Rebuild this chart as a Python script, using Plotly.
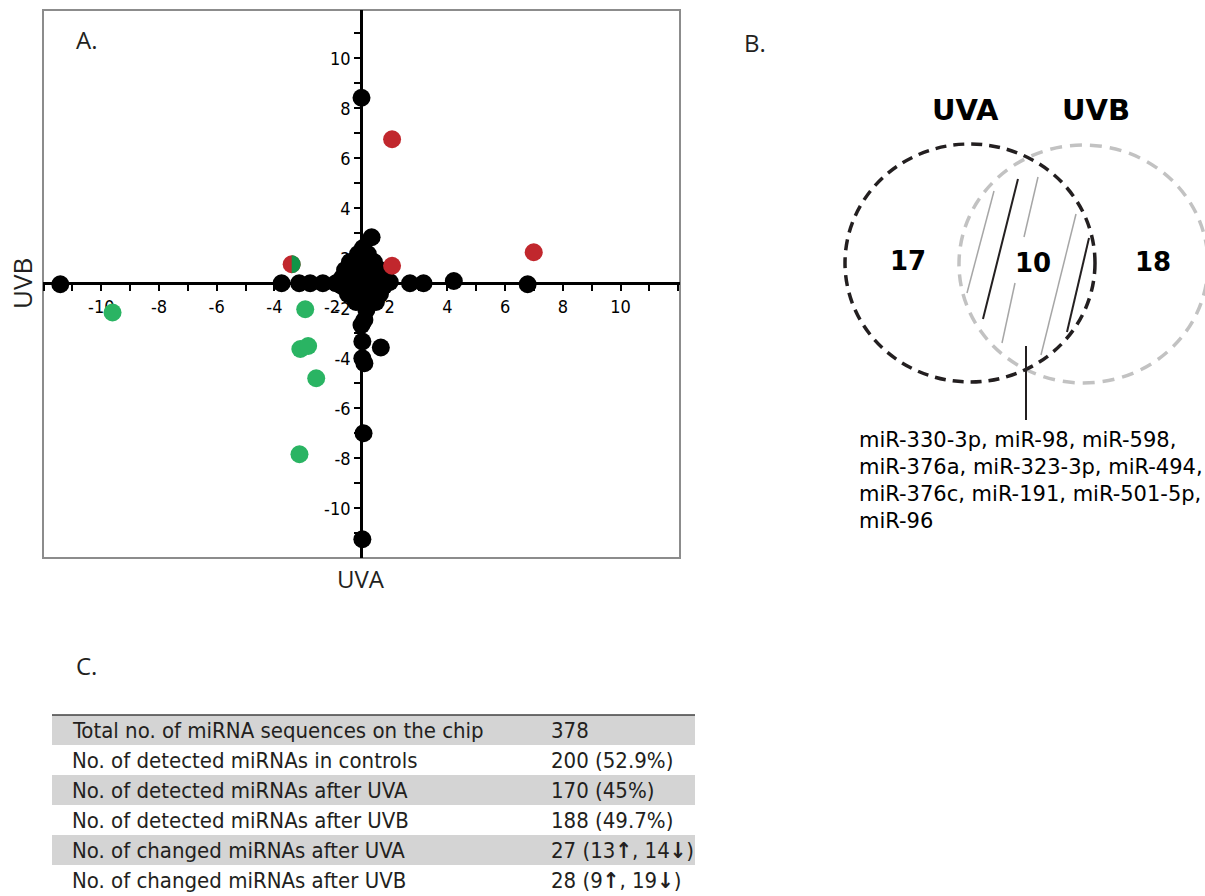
import numpy as np
import plotly.graph_objects as go

W, H = 1205, 896

# ---------------- Panel A data (fold change UVA vs UVB) ----------------
black_x = [0.02, 0.37, -10.42, -2.75, -2.14, -1.76, -1.32, 1.70, 2.17, 3.22, 5.78,
           0.07, -0.87, 1.00,
           -0.10, 0.24,
           -0.38, 0.03, 0.45,
           -0.55, -0.17, 0.24, 0.66,
           -0.66, -0.31, 0.10, 0.52, 0.80,
           -0.66, -0.24, 0.17, 0.59, 0.80,
           -0.45, -0.03, 0.38, 0.66,
           -0.17, 0.24, 0.52,
           0.19, 0.12, 0.02, 0.05, 0.69, 0.05, 0.12, 0.09, 0.05]
black_y = [7.42, 1.84, -0.04, 0.00, 0.00, 0.00, 0.00, 0.00, 0.00, 0.09, -0.04,
           1.41, 0.00, 0.05,
           1.17, 1.17,
           0.85, 0.85, 0.85,
           0.53, 0.53, 0.53, 0.53,
           0.21, 0.21, 0.21, 0.21, 0.21,
           -0.11, -0.11, -0.11, -0.11, -0.11,
           -0.43, -0.43, -0.43, -0.43,
           -0.75, -0.75, -0.75,
           -1.07, -1.47, -1.67, -2.33, -2.57, -3.00, -3.20, -6.00, -10.24]
red_x = [1.08, 5.99, 1.08]
red_y = [5.76, 1.24, 0.70]
green_x = [-8.61, -1.93, -2.10, -1.83, -1.55, -2.13]
green_y = [-1.17, -1.04, -2.63, -2.51, -3.80, -6.84]
both_x = [-2.40]
both_y = [0.76]

x_range = [-11.02, 11.06]
y_range = [-10.99, 10.93]
tick_vals = [-9, -7, -5, -3, -1, 1, 3, 5, 7, 9]
tick_text = ["-10", "-8", "-6", "-4", "-2", "2", "4", "6", "8", "10"]

# ---------------- Panel B data ----------------
venn_sets = ["UVA", "UVB"]
venn_counts = [17, 10, 18]
shared_mirs = ["miR-330-3p, miR-98, miR-598,",
               "miR-376a, miR-323-3p, miR-494,",
               "miR-376c, miR-191, miR-501-5p,",
               "miR-96"]

# ---------------- Panel C data ----------------
row_labels = ["Total no. of miRNA sequences on the chip",
              "No. of detected miRNAs in controls",
              "No. of detected miRNAs after UVA",
              "No. of detected miRNAs after UVB",
              "No. of changed miRNAs after UVA",
              "No. of changed miRNAs after UVB"]
row_values = ["378", "200 (52.9%)", "170 (45%)", "188 (49.7%)",
              "27 (13<b>↑</b>, 14<b>↓</b>)", "28 (9<b>↑</b>, 19<b>↓</b>)"]


def px(x):
    return x / W


def py(y):
    return 1 - y / H


# plot area of panel A in pixels
L, R, T, B = 43, 680, 10, 558
xdom = [px(L), px(R)]
ydom = [py(B), py(T)]

# positions of the crossing axes (at data 0)
x_axis_pos = ydom[0] + (0 - y_range[0]) / (y_range[1] - y_range[0]) * (ydom[1] - ydom[0])
y_axis_pos = xdom[0] + (0 - x_range[0]) / (x_range[1] - x_range[0]) * (xdom[1] - xdom[0])

MS = 18
fig = go.Figure()
fig.add_trace(go.Scatter(x=black_x, y=black_y, mode="markers",
                         marker=dict(color="black", size=MS, line=dict(width=0)),
                         showlegend=False))
fig.add_trace(go.Scatter(x=red_x, y=red_y, mode="markers",
                         marker=dict(color="#c1272d", size=MS, line=dict(width=0)),
                         showlegend=False))
fig.add_trace(go.Scatter(x=green_x, y=green_y, mode="markers",
                         marker=dict(color="#2ab463", size=MS, line=dict(width=0)),
                         showlegend=False))
# half red / half green point (changed in both)
fig.add_trace(go.Scatter(x=both_x, y=both_y, mode="markers",
                         marker=dict(color="#c1272d", size=MS, line=dict(width=0)),
                         showlegend=False))
# green right half, built from the point and the marker radius in axis units
plot_w_px, plot_h_px = R - L, B - T
rx = (MS / 2) / plot_w_px * (x_range[1] - x_range[0])
ry = (MS / 2) / plot_h_px * (y_range[1] - y_range[0])
th = np.linspace(-np.pi / 2, np.pi / 2, 40)
fig.add_trace(go.Scatter(x=list(both_x[0] + rx * np.cos(th)),
                         y=list(both_y[0] + ry * np.sin(th)),
                         mode="lines", fill="toself", fillcolor="#129447",
                         line=dict(width=0, color="#129447"),
                         hoverinfo="skip", showlegend=False))

tick_font = dict(family="Liberation Sans Narrow, DejaVu Sans Condensed, Arial Narrow, sans-serif",
                 size=18, color="black")

fig.update_layout(
    width=W, height=H,
    margin=dict(l=0, r=0, t=0, b=0),
    paper_bgcolor="white", plot_bgcolor="white",
    xaxis=dict(domain=xdom, range=x_range, anchor="free", position=x_axis_pos,
               showline=True, linecolor="black", linewidth=2.5,
               showgrid=False, zeroline=False,
               tickmode="array", tickvals=tick_vals, ticktext=tick_text,
               ticks="outside", ticklen=6, tickwidth=2, tickcolor="black",
               minor=dict(dtick=1, tick0=0, ticks="outside", ticklen=6,
                          tickwidth=2, tickcolor="black", showgrid=False),
               tickfont=tick_font, layer="below traces", fixedrange=True),
    yaxis=dict(domain=ydom, range=y_range, anchor="free", position=y_axis_pos,
               showline=True, linecolor="black", linewidth=2.5,
               showgrid=False, zeroline=False,
               tickmode="array", tickvals=tick_vals, ticktext=tick_text,
               ticks="outside", ticklen=6, tickwidth=2, tickcolor="black",
               minor=dict(dtick=1, tick0=0, ticks="outside", ticklen=6,
                          tickwidth=2, tickcolor="black", showgrid=False),
               tickfont=tick_font, layer="below traces", fixedrange=True),
)

shapes = []
annotations = []

# frame around panel A
shapes.append(dict(type="rect", xref="x domain", yref="y domain", x0=0, x1=1, y0=0, y1=1,
                   line=dict(color="#8c8c8c", width=2), layer="below"))

title_font = dict(family="Open Sans, Noto Sans, sans-serif", size=24, color="#231f20")
annotations.append(dict(text="UVA", x=px(361), y=py(578), xref="paper", yref="paper",
                        showarrow=False, font=title_font, xanchor="center", yanchor="middle"))
annotations.append(dict(text="UVB", x=px(22), y=py(284), xref="paper", yref="paper",
                        showarrow=False, font=dict(title_font, size=26), textangle=-90,
                        xanchor="center", yanchor="middle"))
panel_font = dict(family="Open Sans, Noto Sans, sans-serif", size=24, color="#231f20")
for lab, (x0, y0) in zip(["A.", "B.", "C."], [(87, 40), (755, 42), (87, 665)]):
    annotations.append(dict(text=lab, x=px(x0), y=py(y0), xref="paper", yref="paper",
                            showarrow=False, font=panel_font, xanchor="center", yanchor="middle"))

# ---------------- Panel B: Venn ----------------
shapes.append(dict(type="circle", xref="paper", yref="paper",
                   x0=px(959), x1=px(1208), y0=py(383), y1=py(145),
                   line=dict(color="#c2c2c2", width=3.5, dash="12px,8px")))
shapes.append(dict(type="circle", xref="paper", yref="paper",
                   x0=px(845), x1=px(1095), y0=py(382), y1=py(144),
                   line=dict(color="#231f20", width=3.5, dash="11px,7px")))
hatch = [((1018, 179), (983, 319), "#231f20", 2),
         ((1089, 238), (1067, 332), "#231f20", 2),
         ((994, 191), (967, 293), "#a6a6a6", 1.5),
         ((1038, 177), (1024, 237), "#a6a6a6", 1.5),
         ((1015, 283), (1002, 343), "#a6a6a6", 1.5),
         ((1076, 214), (1041, 355), "#a6a6a6", 1.5)]
for (xa, ya), (xb, yb), c, w in hatch:
    shapes.append(dict(type="line", xref="paper", yref="paper",
                       x0=px(xa), y0=py(ya), x1=px(xb), y1=py(yb),
                       line=dict(color=c, width=w)))
shapes.append(dict(type="line", xref="paper", yref="paper",
                   x0=px(1026), y0=py(346), x1=px(1026), y1=py(420),
                   line=dict(color="#231f20", width=2)))

venn_font = dict(family="DejaVu Sans, Liberation Sans, sans-serif", size=29, color="black")
for name, (x0, y0) in zip(venn_sets, [(965, 110), (1096, 110)]):
    annotations.append(dict(text=f"<b>{name}</b>", x=px(x0), y=py(y0), xref="paper", yref="paper",
                            showarrow=False, font=venn_font, xanchor="center", yanchor="middle"))
count_font = dict(venn_font, size=26)
for cnt, (x0, y0) in zip(venn_counts, [(908, 261), (1033, 263), (1153, 262)]):
    annotations.append(dict(text=f"<b>{cnt}</b>", x=px(x0), y=py(y0), xref="paper", yref="paper",
                            showarrow=False, font=count_font, xanchor="center", yanchor="middle"))
mir_font = dict(family="DejaVu Sans, Liberation Sans, sans-serif", size=21, color="black")
for i, line in enumerate(shared_mirs):
    annotations.append(dict(text=line, x=px(857), y=py(440 + 27 * i), xref="paper", yref="paper",
                            showarrow=False, font=mir_font, xanchor="left", yanchor="middle"))

# ---------------- Panel C: table ----------------
TL, TR, TT, RH = 52, 695, 715, 30
tab_font = dict(family="Liberation Sans Narrow, DejaVu Sans Condensed, Arial Narrow, sans-serif",
                size=22, color="#231f20")
for i, (lab, val) in enumerate(zip(row_labels, row_values)):
    y0 = TT + RH * i
    if i % 2 == 0:
        shapes.append(dict(type="rect", xref="paper", yref="paper",
                           x0=px(TL), x1=px(TR), y0=py(y0 + RH), y1=py(y0),
                           fillcolor="#d4d4d4", line=dict(width=0), layer="below"))
    annotations.append(dict(text=lab, x=px(70), y=py(y0 + RH / 2), xref="paper", yref="paper",
                            showarrow=False, font=tab_font, xanchor="left", yanchor="middle"))
    annotations.append(dict(text=val, x=px(549), y=py(y0 + RH / 2), xref="paper", yref="paper",
                            showarrow=False, font=tab_font, xanchor="left", yanchor="middle"))
shapes.append(dict(type="line", xref="paper", yref="paper",
                   x0=px(TL), x1=px(TR), y0=py(TT), y1=py(TT),
                   line=dict(color="#404040", width=1.5)))

fig.update_layout(shapes=shapes, annotations=annotations)
fig.write_html("out.html", config={"displayModeBar": False},
               post_script="document.body.style.margin='0px';")
